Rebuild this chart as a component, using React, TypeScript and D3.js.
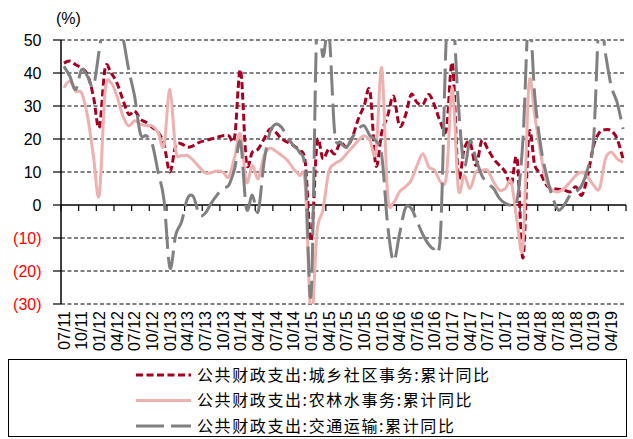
import React from 'react';
import * as d3 from 'd3';

// Monthly, 2011-07 .. 2019-06 (cumulative YoY, %)
const seriesNames = [
  '公共财政支出:城乡社区事务:累计同比',
  '公共财政支出:农林水事务:累计同比',
  '公共财政支出:交通运输:累计同比',
];

const urbanRural: number[] = [
  43, 43.6, 42.5, 41.5, 39.5, 33, 23.5, 41.5, 40, 37,
  32, 27.5, 28.5, 26, 25, 23.5, 22, 18.5, 10, 18,
  18.5, 17.5, 18, 19, 19.5, 20, 20.5, 21, 21, 20.5,
  41, 13, 16, 17, 20, 23, 22, 20, 19, 18,
  16.5, 13, -11, 19, 14, 17, 15.5, 19, 17.5, 20.5,
  26, 30, 34.5, 12, 22, 27, 33, 24, 27, 33.5,
  31, 30.5, 33.5, 30, 25, 23, 43, 9, 17, 19,
  12, 19.5, 17, 14, 12, 10, 6, 14, -16, 21.5,
  12, 9.5, 6, 5, 4.8, 4.5, 4, 5.5, 3, 9,
  18, 22, 22.8, 22.5, 20, 14,
];

const agriculture: number[] = [
  35.5, 37.5, 34.5, 34, 27, 15, 3, 34.5, 37, 33,
  27, 24, 25.5, 24.5, 24, 24, 22, 18, 35, 16.5,
  15, 15, 13.5, 11.5, 9.7, 9.8, 10.3, 10, 8.5, 14.5,
  21.5, 7, 12, 8, 15, 17.2, 16.3, 15, 13.5, 11,
  9, 6, -35, -8, -1.5, 10, 12.5, 13.5, 15.5, 17.5,
  19.5, 21, 19.5, 16, 41.5, 3, 0.8, 4, 5.5, 7.5,
  12, 15.5, 11.5, 10.5, 7, 9, 35.5, 5, 9, 5,
  10, 10.5, 10.5, 7, 4.5, 5, 7, -5, -12, 36.5,
  27, 15.5, 7, 4.5, 4, 5, 7, 9, 10, 8.5,
  6, 5, 14, 16, 14, 13,
];

const transport: number[] = [
  42, 39, 35, 41, 39, 36, 47, 58, 60, 57,
  51, 41, 33, 21.5, 21, 18.5, 10, 1.5, -19, -9,
  -5, 2, 2.5, -3, -2.5, 0.5, 3, 5, 6, 11,
  19, -1, 3, -2, 13, 22, 24.5, 23.5, 20.5, 18,
  16, 10, -27, 56, 45, 53, 22, 19, 17.5, 20.5,
  23, 24, 21, 19.5, 15, -6, -17, -9, -1, -1,
  -5, -9, -12, -13, -8, 52, 60, 31, 12, 19.5,
  14, 9, 6.5, 5, 2, 0.5, 0, 1.5, 20, 58,
  33, 18, 9, 2.5, -1.5, 0, 3, 4, 6, 11,
  20, 58, 46, 36, 31, 23,
];

const xTickLabels = [
  '07/11', '10/11',
  '01/12', '04/12', '07/12', '10/12',
  '01/13', '04/13', '07/13', '10/13',
  '01/14', '04/14', '07/14', '10/14',
  '01/15', '04/15', '07/15', '10/15',
  '01/16', '04/16', '07/16', '10/16',
  '01/17', '04/17', '07/17', '10/17',
  '01/18', '04/18', '07/18', '10/18',
  '01/19', '04/19',
];

const yTicks = [50, 40, 30, 20, 10, 0, -10, -20, -30];
const yTickLabels = ['50', '40', '30', '20', '10', '0', '(10)', '(20)', '(30)'];

export default function App() {
  const W = 633, H = 439;
  const left = 61, right = 626, top = 40, bottom = 304;
  const n = urbanRural.length;
  const x = d3.scaleBand<number>().domain(d3.range(n)).range([left, right]);
  const y = d3.scaleLinear().domain([-30, 50]).range([bottom, top]);
  const cx = (i: number) => (x(i) as number) + x.bandwidth() / 2;
  const line = d3.line<number>()
    .x((_d, i) => cx(i))
    .y(d => y(d))
    .curve(d3.curveCardinal.tension(0));

  const tickIdx = d3.range(0, n + 1, 3);
  const tickX = (i: number) => (i >= n ? right : (x(i) as number));

  const numFont = '"Liberation Sans", Arial, sans-serif';
  const cjkFont = '"Noto Sans CJK SC", sans-serif';

  const colors = ['#A50021', '#EDB2AF', '#808080'];
  const widths = [3, 3, 3];
  const dashes = ['7,3.5', undefined, '30,8'];
  const data = [urbanRural, agriculture, transport];

  return (
    <svg width={W} height={H} style={{ position: 'absolute', left: 0, top: 0, background: '#fff' }}>
      <defs>
        <clipPath id="plotClip">
          <rect x={left} y={top} width={right - left} height={bottom - top} />
        </clipPath>
      </defs>
      <rect x={0} y={0} width={W} height={H} fill="#fff" />
      {yTicks.filter(v => v !== 0).map(v => (
        <line key={'g' + v} x1={left} x2={right} y1={y(v)} y2={y(v)}
          stroke="#000" strokeWidth={1} strokeDasharray="4,2.5" />
      ))}
      <line x1={left} x2={left} y1={top} y2={bottom} stroke="#000" strokeWidth={1.5} />
      {yTicks.map((v, k) => (
        <g key={'yt' + v}>
          <line x1={left - 8} x2={left} y1={y(v)} y2={y(v)} stroke="#000" strokeWidth={1.2} />
          <text x={41.5} y={y(v)} dy="0.36em" textAnchor="end" fontFamily={numFont}
            fontSize={16} fill={v < 0 ? '#FF0000' : '#000'}>{yTickLabels[k]}</text>
        </g>
      ))}
      <text x={56} y={24} fontFamily={numFont} fontSize={16} fill="#000">(%)</text>
      <line x1={left} x2={right} y1={y(0)} y2={y(0)} stroke="#000" strokeWidth={1.5} />
      {tickIdx.map(i => (
        <line key={'xt' + i} x1={tickX(i)} x2={tickX(i)} y1={y(0)} y2={y(0) + 6}
          stroke="#000" strokeWidth={1.2} />
      ))}
      {xTickLabels.map((lab, k) => {
        const px = cx(k * 3);
        return (
          <text key={'xl' + k} transform={`translate(${px},311) rotate(-90)`}
            textAnchor="end" dy="0.36em" fontFamily={numFont} fontSize={16} fill="#000">{lab}</text>
        );
      })}
      <g clipPath="url(#plotClip)">
        {data.map((s, k) => (
          <path key={'s' + k} d={line(s) || ''} fill="none" stroke={colors[k]}
            strokeWidth={widths[k]} strokeDasharray={dashes[k]} strokeLinejoin="round" />
        ))}
      </g>
      <rect x={8.5} y={359.5} width={618} height={77} fill="none" stroke="#000" strokeWidth={1} />
      {seriesNames.map((name, k) => {
        const ly = 375 + k * 25.5;
        return (
          <g key={'lg' + k}>
            <line x1={136} x2={191} y1={ly} y2={ly} stroke={colors[k]} strokeWidth={widths[k]}
              strokeDasharray={dashes[k] ? (k === 2 ? '28,7' : '7,3.5') : undefined} />
            <text x={197} y={ly} dy="0.36em" fontFamily={cjkFont} fontSize={16}
              letterSpacing={1.6} fill="#000">{name}</text>
          </g>
        );
      })}
    </svg>
  );
}
